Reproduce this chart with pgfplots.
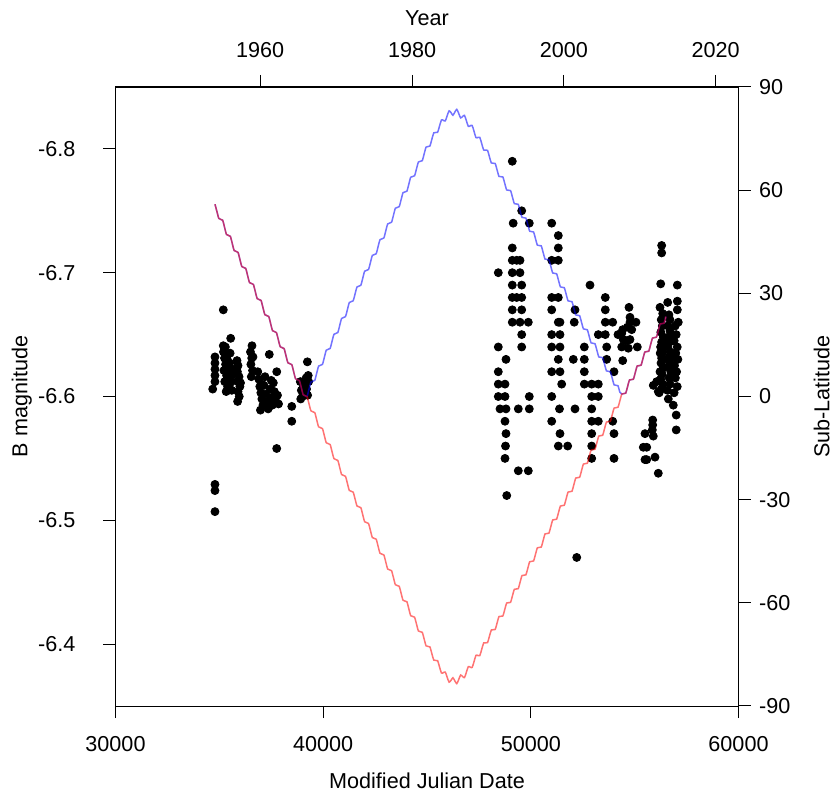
\documentclass[border=0pt]{standalone}
\usepackage{fontspec}
\setmainfont{Liberation Sans}
\usepackage{pgfplots}
\pgfplotsset{compat=1.18}
\usepackage{pgfplotstable}

\pgfplotstableread{
mjd mag
34681 -6.606
34790 -6.632
34790 -6.627
34790 -6.622
34790 -6.617
34790 -6.612
34790 -6.529
34790 -6.524
34790 -6.507
35191 -6.670
35547 -6.647
35191 -6.641
35200 -6.636
35250 -6.631
35300 -6.626
35220 -6.621
35350 -6.617
35260 -6.612
35400 -6.608
35330 -6.604
35450 -6.622
35500 -6.627
35430 -6.614
35480 -6.609
35560 -6.612
35600 -6.617
35640 -6.622
35380 -6.630
35520 -6.635
35600 -6.605
35290 -6.640
35850 -6.629
35900 -6.625
35870 -6.620
35950 -6.616
35880 -6.612
35990 -6.608
35900 -6.604
35960 -6.600
35880 -6.596
36020 -6.611
36573 -6.641
36500 -6.636
36560 -6.631
36520 -6.626
36600 -6.621
36540 -6.616
36620 -6.632
36850 -6.620
36900 -6.614
36950 -6.608
37000 -6.603
37050 -6.598
37100 -6.593
36980 -6.589
37150 -6.609
37200 -6.616
37250 -6.602
37300 -6.596
37350 -6.590
37406 -6.634
37450 -6.606
37500 -6.599
37550 -6.593
37600 -6.611
37650 -6.604
37700 -6.597
37765 -6.620
37800 -6.601
37850 -6.594
37762 -6.558
37050 -6.610
37500 -6.613
38488 -6.592
38488 -6.580
38900 -6.612
38950 -6.605
39000 -6.600
39050 -6.608
39100 -6.603
39150 -6.611
39200 -6.606
39250 -6.601
39300 -6.612
39280 -6.617
38920 -6.598
39239 -6.628
39180 -6.615
48433 -6.70
48433 -6.64
48433 -6.62
48433 -6.61
48433 -6.60
48516 -6.59
48804 -6.63
48756 -6.61
48756 -6.60
48804 -6.59
48756 -6.58
48804 -6.57
48780 -6.56
48756 -6.55
48840 -6.52
49107 -6.79
49150 -6.74
49107 -6.72
49107 -6.71
49107 -6.70
49107 -6.69
49107 -6.68
49107 -6.67
49107 -6.66
49319 -6.71
49319 -6.68
49478 -6.71
49478 -6.70
49478 -6.66
49396 -6.59
49396 -6.54
49560 -6.75
49560 -6.69
49560 -6.68
49560 -6.67
49560 -6.65
49560 -6.64
49926 -6.74
49878 -6.66
49926 -6.60
49926 -6.59
49878 -6.54
51005 -6.74
51005 -6.71
51005 -6.68
51005 -6.67
51005 -6.65
51005 -6.64
51005 -6.62
51005 -6.60
51005 -6.58
51323 -6.73
51323 -6.72
51323 -6.71
51323 -6.68
51323 -6.66
51404 -6.66
51404 -6.65
51404 -6.64
51323 -6.63
51404 -6.62
51486 -6.61
51380 -6.59
51404 -6.57
51323 -6.56
51775 -6.56
52127 -6.67
52090 -6.66
52045 -6.63
52127 -6.59
52575 -6.64
52575 -6.63
52575 -6.62
52575 -6.61
52849 -6.69
52931 -6.61
52931 -6.60
52931 -6.59
52931 -6.58
52931 -6.57
52931 -6.56
52931 -6.55
53249 -6.65
53249 -6.61
53249 -6.60
53249 -6.58
53586 -6.68
53586 -6.67
53586 -6.66
53586 -6.65
53653 -6.64
53653 -6.63
53942 -6.66
54005 -6.62
53942 -6.58
54005 -6.57
54005 -6.55
54197 -6.65
52210 -6.47
54727 -6.672
54775 -6.664
55064 -6.660
54775 -6.660
54424 -6.654
54857 -6.654
54453 -6.646
54775 -6.646
55127 -6.640
54694 -6.639
54424 -6.629
54376 -6.640
54376 -6.651
54600 -6.645
54650 -6.656
56300 -6.722
56300 -6.716
56254 -6.691
57054 -6.690
56590 -6.676
57054 -6.677
57054 -6.670
56220 -6.672
56350 -6.667
56280 -6.662
56330 -6.657
56260 -6.652
56380 -6.648
56300 -6.644
56250 -6.640
56350 -6.636
56300 -6.631
56270 -6.627
56380 -6.623
56320 -6.618
56250 -6.614
56360 -6.610
56290 -6.606
56220 -6.620
56230 -6.635
56400 -6.645
56650 -6.666
56700 -6.662
56600 -6.657
56700 -6.653
56620 -6.648
56680 -6.644
56600 -6.640
56720 -6.636
56640 -6.632
56690 -6.628
56610 -6.624
56740 -6.620
56660 -6.615
56700 -6.610
56581 -6.605
56620 -6.598
56760 -6.650
56560 -6.630
56950 -6.657
57000 -6.650
56900 -6.645
57050 -6.640
56980 -6.635
57080 -6.630
56920 -6.625
57020 -6.620
56960 -6.615
57050 -6.608
56900 -6.603
56860 -6.593
57000 -6.585
57000 -6.573
57100 -6.660
56880 -6.632
55897 -6.609
56138 -6.604
56180 -6.603
56060 -6.612
55868 -6.581
55868 -6.577
55897 -6.568
55850 -6.573
55498 -6.570
55416 -6.559
55580 -6.559
55498 -6.549
55580 -6.549
55979 -6.551
56138 -6.538
}\magdata

\pgfplotstableread{
mjd red blue
34790 55.90 55.90
34882 53.83 53.83
34975 51.77 51.77
35067 51.50 51.50
35160 51.24 51.24
35252 49.17 49.17
35344 47.11 47.11
35437 46.84 46.84
35529 46.57 46.57
35622 44.51 44.51
35714 42.44 42.44
35807 42.18 42.18
35899 41.91 41.91
35991 39.84 39.84
36084 37.78 37.78
36176 37.51 37.51
36269 37.25 37.25
36361 35.18 35.18
36453 33.12 33.12
36546 32.85 32.85
36638 32.58 32.58
36731 30.52 30.52
36823 28.45 28.45
36916 28.19 28.19
37008 27.92 27.92
37100 25.85 25.85
37193 23.79 23.79
37285 23.52 23.52
37378 23.26 23.26
37470 21.19 21.19
37562 19.13 19.13
37655 18.86 18.86
37747 18.59 18.59
37840 16.53 16.53
37932 14.46 14.46
38025 14.20 14.20
38117 13.93 13.93
38209 11.87 11.87
38302 9.80 9.80
38394 9.53 9.53
38487 9.27 9.27
38579 7.20 7.20
38671 5.14 5.14
38764 4.87 4.87
38856 4.60 4.60
38949 2.54 2.54
39041 0.47 0.47
39134 0.21 0.21
39226 -0.06 0.06
39318 -2.12 2.12
39411 -4.18 4.18
39503 -4.44 4.44
39596 -4.70 4.70
39688 -6.76 6.76
39780 -8.82 8.82
39873 -9.08 9.08
39965 -9.34 9.34
40058 -11.40 11.40
40150 -13.46 13.46
40242 -13.71 13.71
40335 -13.97 13.97
40427 -16.03 16.03
40520 -18.08 18.08
40612 -18.34 18.34
40705 -18.59 18.59
40797 -20.65 20.65
40889 -22.70 22.70
40982 -22.96 22.96
41074 -23.21 23.21
41167 -25.26 25.26
41259 -27.32 27.32
41351 -27.57 27.57
41444 -27.82 27.82
41536 -29.79 29.79
41629 -31.84 31.84
41721 -32.09 32.09
41814 -32.33 32.33
41906 -34.38 34.38
41998 -36.43 36.43
42091 -36.67 36.67
42183 -36.92 36.92
42276 -38.97 38.97
42368 -41.02 41.02
42460 -41.26 41.26
42553 -41.50 41.50
42645 -43.56 43.56
42738 -45.60 45.60
42830 -45.84 45.84
42923 -46.09 46.09
43015 -48.13 48.13
43107 -50.17 50.17
43200 -50.42 50.42
43292 -50.66 50.66
43385 -52.69 52.69
43477 -54.74 54.74
43569 -54.97 54.97
43662 -55.20 55.20
43754 -57.24 57.24
43847 -59.26 59.26
43939 -59.48 59.48
44032 -59.70 59.70
44124 -61.73 61.73
44216 -63.75 63.75
44309 -63.96 63.96
44401 -64.18 64.18
44494 -66.18 66.18
44586 -68.18 68.18
44678 -68.39 68.39
44771 -68.57 68.57
44863 -70.53 70.53
44956 -72.51 72.51
45048 -72.67 72.67
45140 -72.82 72.82
45233 -74.77 74.77
45325 -76.65 76.65
45418 -76.76 76.76
45510 -76.81 76.81
45603 -78.64 78.64
45695 -80.39 80.39
45787 -80.30 80.30
45880 -80.12 80.12
45972 -81.65 81.65
46065 -83.06 83.06
46157 -82.52 82.52
46249 -81.80 81.80
46342 -82.71 82.71
46434 -83.48 83.48
46527 -82.31 82.31
46619 -81.01 81.01
46712 -81.41 81.41
46804 -81.74 81.74
46896 -80.18 80.18
46989 -78.56 78.56
47081 -78.70 78.70
47174 -78.79 78.79
47266 -77.08 77.08
47358 -75.28 75.28
47451 -75.32 75.32
47543 -75.33 75.33
47636 -73.50 73.50
47728 -71.67 71.67
47821 -71.63 71.63
47913 -71.58 71.58
48005 -69.74 69.74
48098 -67.90 67.90
48190 -67.82 67.82
48283 -67.74 67.74
48375 -65.87 65.87
48467 -63.99 63.99
48560 -63.91 63.91
48652 -63.83 63.83
48745 -61.94 61.94
48837 -60.05 60.05
48930 -59.96 59.96
49022 -59.87 59.87
49114 -57.97 57.97
49207 -56.07 56.07
49299 -55.98 55.98
49392 -55.88 55.88
49484 -53.98 53.98
49576 -52.08 52.08
49669 -51.97 51.97
49761 -51.86 51.86
49854 -49.96 49.96
49946 -48.05 48.05
50038 -47.94 47.94
50131 -47.83 47.83
50223 -45.92 45.92
50316 -44.00 44.00
50408 -43.89 43.89
50501 -43.79 43.79
50593 -41.87 41.87
50685 -39.96 39.96
50778 -39.86 39.86
50870 -39.74 39.74
50963 -37.82 37.82
51055 -35.90 35.90
51147 -35.79 35.79
51240 -35.68 35.68
51332 -33.77 33.77
51425 -31.86 31.86
51517 -31.74 31.74
51610 -31.63 31.63
51702 -29.72 29.72
51794 -27.80 27.80
51887 -27.68 27.68
51979 -27.57 27.57
52072 -25.65 25.65
52164 -23.72 23.72
52256 -23.61 23.61
52349 -23.49 23.49
52441 -21.57 21.57
52534 -19.65 19.65
52626 -19.53 19.53
52719 -19.41 19.41
52811 -17.49 17.49
52903 -15.58 15.58
52996 -15.46 15.46
53088 -15.34 15.34
53181 -13.43 13.43
53273 -11.51 11.51
53365 -11.39 11.39
53458 -11.28 11.28
53550 -9.36 9.36
53643 -7.44 7.44
53735 -7.32 7.32
53828 -7.20 7.20
53920 -5.28 5.28
54012 -3.37 3.37
54105 -3.25 3.25
54197 -3.12 3.12
54290 -1.21 1.21
54382 0.71 0.71
54474 0.83 0.83
54567 0.96 0.96
54659 2.88 2.88
54752 4.81 4.81
54844 4.90 4.90
54937 5.02 5.02
55029 6.94 6.94
55121 8.86 8.86
55214 8.97 8.97
55306 9.09 9.09
55399 11.01 11.01
55491 12.93 12.93
55583 13.05 13.05
55676 13.16 13.16
55768 15.08 15.08
55861 17.00 17.00
55953 17.12 17.12
56045 17.24 17.24
56138 19.15 19.15
56230 21.07 21.07
56323 21.19 21.19
56415 21.31 21.31
56508 23.23 23.23
}\latdata

\begin{document}
\begin{tikzpicture}[font=\fontsize{10.8}{13}\selectfont]
\useasboundingbox (-57.75pt,-47.5pt) rectangle (359.75pt,353pt);
\begin{axis}[
  at={(0,0)}, anchor=south west,
  scale only axis, width=311.5pt, height=309.5pt,
  xmin=30000, xmax=60000, ymin=-6.85, ymax=-6.35, y dir=reverse,
  scaled x ticks=false, scaled y ticks=false,
  axis line style={black, line width=0.5pt},
  xtick={30000,40000,50000,60000},
  xticklabels={30000,40000,50000,60000},
  ytick={-6.8,-6.7,-6.6,-6.5,-6.4},
  yticklabels={-6.8,-6.7,-6.6,-6.5,-6.4},
  xtick pos=lower, ytick pos=left,
  tick align=outside, major tick length=6pt,
  tick style={black, line width=0.5pt},
  xticklabel style={anchor=center, yshift=-13pt},
  yticklabel style={anchor=east, xshift=-10.5pt},
  xlabel={Modified Julian Date}, ylabel={B magnitude},
  xlabel style={at={(axis description cs:0.5,-0.1212)}, anchor=center},
  ylabel style={at={(axis description cs:-0.1506,0.5)}, anchor=center},
  clip=false,
]
\addplot[only marks, mark=*, mark size=2pt, black] table[x=mjd, y=mag] {\magdata};
\end{axis}
\begin{axis}[
  at={(0,0)}, anchor=south west,
  scale only axis, width=311.5pt, height=309.5pt,
  xmin=30000, xmax=60000, ymin=-90, ymax=90,
  scaled x ticks=false, scaled y ticks=false,
  axis x line*=top, axis y line*=right,
  axis line style={black, line width=0.5pt, -},
  xtick={36970,44280,51590,58900},
  xticklabels={1960,1980,2000,2020},
  ytick={-90,-60,-30,0,30,60,90},
  yticklabels={-90,-60,-30,0,30,60,90},
  tick align=outside, major tick length=6pt,
  tick style={black, line width=0.5pt},
  xticklabel style={anchor=center, yshift=12.5pt},
  yticklabel style={anchor=west, xshift=0.75pt},
  xlabel={Year}, ylabel={Sub-Latitude},
  xlabel style={at={(axis description cs:0.5,1.1115)}, anchor=center},
  ylabel style={at={(axis description cs:1.1335,0.5)}, anchor=center},
]
\addplot[color={rgb,255:red,0;green,0;blue,255}, opacity=0.55, line width=0.75pt, smooth] table[x=mjd, y=blue] {\latdata};
\addplot[color={rgb,255:red,255;green,0;blue,0}, opacity=0.55, line width=0.75pt, smooth] table[x=mjd, y=red] {\latdata};
\end{axis}
\end{tikzpicture}
\end{document}
